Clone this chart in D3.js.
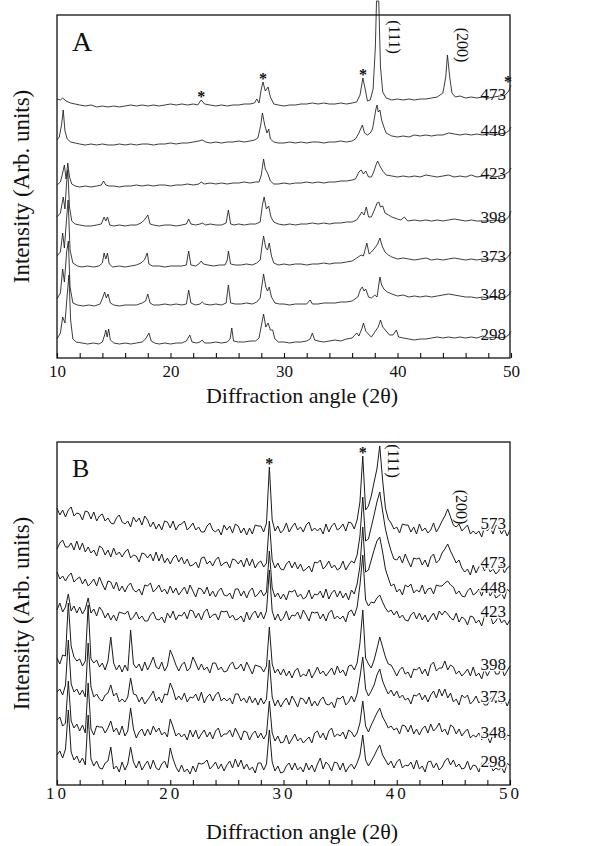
<!DOCTYPE html>
<html>
<head>
<meta charset="utf-8">
<script src="https://cdn.jsdelivr.net/npm/d3@7"></script>
<style>
    body { margin: 0; background: #fff; }
    text { font-family: "Liberation Serif", "Times New Roman", serif; fill: #111; }
</style>
</head>
<body>
<svg id="chart" width="616" height="846"></svg>
<script>
// ---- Panel A data: temperature labels, trace baselines and [angle, intensity above baseline] readings
var tempsA = ["473", "448", "423", "398", "373", "348", "298"];
var baseA = [251, 213, 171, 131, 90, 51, 13];

var trace473A = [[10,8],[10.3,7],[10.5,9],[10.8,6],[11.2,4],[11.6,3],[12,2],[12.5,1],[13,2],[13.5,0],[14,1],[14.5,0],[15,1],[15.5,0],[16,1],[16.5,2],[17,1],[17.5,2],[18,1],[18.5,2],[19,1],[19.5,2],[20,3],[20.5,2],[21,3],[21.5,2],[22,3],[22.4,2],[22.7,7],[23,3],[23.5,2],[24,1],[24.5,2],[25,1],[25.5,2],[26,2],[26.5,3],[27,3],[27.4,4],[27.6,8],[27.8,4],[28.0,18],[28.15,25],[28.35,16],[28.6,20],[28.8,10],[29.1,3],[29.5,2],[30,1],[30.5,2],[31,2],[31.5,3],[32,3],[32.5,4],[33,3],[33.5,4],[34,3],[34.5,3],[35,4],[35.5,3],[36,4],[36.4,5],[36.7,12],[36.95,29],[37.15,18],[37.35,6],[37.6,7],[37.85,18],[38.05,60],[38.15,106],[38.35,106],[38.5,40],[38.7,15],[39,9],[39.5,7],[40,8],[40.5,7],[41,8],[41.5,7],[42,8],[42.5,8],[43,9],[43.5,10],[44,14],[44.25,30],[44.4,52],[44.6,30],[44.8,14],[45.1,10],[45.5,11],[46,9],[46.5,10],[47,9],[47.5,10],[48,9],[48.5,10],[49,11],[49.5,12],[49.8,16],[50,22]];

var trace448A = [[10,5],[10.2,8],[10.4,20],[10.55,35],[10.7,14],[10.9,6],[11.2,3],[11.6,2],[12,1],[12.5,0],[13,1],[13.5,0],[14,1],[14.5,0],[15,0],[15.5,1],[16,0],[16.5,1],[17,0],[17.5,1],[18,1],[18.5,0],[19,1],[19.5,1],[20,2],[20.5,1],[21,2],[21.5,2],[22,3],[22.5,4],[22.8,5],[23.1,3],[23.5,2],[24,3],[24.5,2],[25,3],[25.5,3],[26,4],[26.5,3],[27,4],[27.4,5],[27.7,7],[27.95,20],[28.1,32],[28.3,20],[28.5,12],[28.65,16],[28.8,6],[29.1,3],[29.5,2],[30,2],[30.5,3],[31,2],[31.5,3],[32,2],[32.5,3],[33,3],[33.5,2],[34,3],[34.5,3],[35,4],[35.5,3],[36,4],[36.3,6],[36.6,12],[36.9,20],[37.1,12],[37.35,10],[37.6,12],[37.8,16],[37.95,26],[38.1,36],[38.2,40],[38.3,33],[38.45,35],[38.6,25],[38.8,18],[39,12],[39.5,9],[40,8],[40.5,9],[41,8],[41.5,10],[42,9],[42.5,10],[43,9],[43.5,10],[44,10],[44.5,12],[45,11],[45.5,10],[46,11],[46.5,10],[47,11],[47.5,10],[48,11],[48.5,10],[49,11],[49.5,12],[49.8,14],[50,18]];

var trace423A = [[10,2],[10.3,5],[10.5,14],[10.65,22],[10.8,8],[10.95,24],[11.1,10],[11.3,3],[11.6,1],[12,0],[12.5,1],[13,0],[13.5,1],[13.9,2],[14.1,6],[14.3,2],[14.6,1],[15,1],[15.5,0],[16,1],[16.5,1],[17,2],[17.5,1],[18,2],[18.5,1],[19,2],[19.5,2],[20,1],[20.5,2],[21,2],[21.5,3],[22,2],[22.5,3],[22.7,5],[23,3],[23.5,4],[24,3],[24.5,4],[25,3],[25.5,4],[26,4],[26.5,5],[27,4],[27.5,5],[27.8,5],[28.0,12],[28.2,28],[28.35,18],[28.55,14],[28.8,6],[29.1,3],[29.5,3],[30,4],[30.5,3],[31,4],[31.5,4],[32,5],[32.5,4],[33,5],[33.5,4],[34,5],[34.5,5],[35,6],[35.5,6],[36,7],[36.3,8],[36.6,15],[36.8,17],[37,13],[37.2,16],[37.45,10],[37.7,10],[37.9,15],[38.1,22],[38.25,26],[38.45,21],[38.7,16],[39,12],[39.5,11],[40,10],[40.5,11],[41,10],[41.5,11],[42,10],[42.5,12],[43,11],[43.5,10],[44,11],[44.5,12],[45,10],[45.5,11],[46,10],[46.5,12],[47,10],[47.5,11],[48,12],[48.5,10],[49,11],[49.5,13],[49.8,15],[50,19]];

var trace398A = [[10,10],[10.3,14],[10.55,30],[10.7,18],[10.85,45],[10.95,57],[11.1,20],[11.3,6],[11.6,3],[12,2],[12.5,1],[13,1],[13.5,2],[13.9,3],[14.15,10],[14.3,6],[14.45,10],[14.65,2],[15,1],[15.5,2],[16,1],[16.5,2],[17,2],[17.4,4],[17.7,7],[18.0,12],[18.2,3],[18.5,2],[19,1],[19.5,2],[20,2],[20.5,1],[21,2],[21.4,3],[21.6,8],[21.8,3],[22.2,2],[22.6,3],[22.8,4],[23.1,2],[23.5,3],[24,2],[24.5,2],[24.9,4],[25.1,17],[25.3,3],[25.6,2],[26,3],[26.5,2],[27,3],[27.5,3],[27.9,5],[28.1,22],[28.25,30],[28.45,18],[28.65,21],[28.85,10],[29.1,5],[29.5,3],[30,2],[30.5,3],[31,2],[31.5,3],[32,3],[32.5,4],[33,3],[33.5,4],[34,3],[34.5,4],[35,4],[35.5,5],[36,5],[36.4,7],[36.7,12],[36.85,15],[37.05,12],[37.25,20],[37.45,10],[37.7,10],[38.0,18],[38.2,24],[38.35,25],[38.5,20],[38.7,21],[38.9,14],[39.2,12],[39.5,10],[40,8],[40.3,7],[40.6,10],[40.9,6],[41.5,7],[42,6],[42.5,7],[43,6],[43.5,7],[44,6],[44.5,7],[45,8],[45.5,7],[46,6],[46.5,7],[47,6],[47.5,6],[48,6],[48.5,7],[49,6],[49.5,7],[49.8,10],[50,16]];

var trace373A = [[10,12],[10.3,16],[10.5,35],[10.65,20],[10.85,50],[10.98,68],[11.15,18],[11.4,5],[11.8,2],[12.2,1],[12.7,2],[13.2,1],[13.7,2],[14.0,5],[14.15,15],[14.3,9],[14.45,15],[14.6,4],[14.9,1],[15.5,2],[16,1],[16.5,2],[17,3],[17.4,5],[17.7,8],[17.95,15],[18.1,4],[18.4,2],[19,2],[19.5,1],[20,2],[20.5,2],[21,2],[21.4,3],[21.6,17],[21.8,3],[22.2,2],[22.5,4],[22.7,7],[22.9,4],[23.3,3],[23.8,2],[24.3,3],[24.8,3],[25.0,8],[25.1,17],[25.3,4],[25.7,3],[26.2,3],[26.7,4],[27.2,3],[27.6,5],[27.9,8],[28.1,25],[28.2,32],[28.4,20],[28.55,18],[28.7,25],[28.9,12],[29.1,5],[29.5,3],[30,4],[30.5,3],[31,4],[31.5,4],[32,3],[32.5,4],[33,4],[33.5,5],[34,4],[34.5,5],[35,5],[35.5,6],[36,7],[36.4,10],[36.8,13],[37.0,12],[37.3,25],[37.5,14],[37.7,16],[38.0,20],[38.25,24],[38.45,30],[38.65,22],[38.9,16],[39.2,13],[39.5,11],[40,9],[40.5,10],[41,9],[41.5,8],[42,9],[42.5,10],[43,8],[43.5,9],[44,8],[44.5,9],[45,10],[45.5,9],[46,8],[46.5,9],[47,8],[47.5,9],[48,8],[48.5,9],[49,8],[49.5,9],[49.8,12],[50,16]];

var trace348A = [[10,8],[10.3,14],[10.5,38],[10.65,25],[10.85,55],[11.0,66],[11.15,20],[11.4,4],[11.8,2],[12.3,1],[12.8,2],[13.3,1],[13.8,3],[14.05,10],[14.2,15],[14.35,9],[14.5,13],[14.7,4],[15,2],[15.5,1],[16,2],[16.5,2],[17,2],[17.5,4],[17.8,6],[18.0,13],[18.2,4],[18.5,2],[19,2],[19.5,3],[20,2],[20.5,3],[21,2],[21.4,3],[21.6,17],[21.8,4],[22.2,2],[22.6,3],[22.8,5],[23,3],[23.5,2],[24,3],[24.5,2],[24.9,4],[25.1,22],[25.3,4],[25.7,3],[26.2,3],[26.7,4],[27.2,3],[27.6,5],[27.9,9],[28.1,25],[28.2,33],[28.4,20],[28.55,16],[28.7,20],[28.9,10],[29.2,4],[29.6,3],[30,3],[30.5,2],[31,3],[31.5,3],[32,3],[32.3,7],[32.5,3],[33,3],[33.5,4],[34,4],[34.5,4],[35,5],[35.5,5],[36,6],[36.5,10],[36.75,18],[36.9,20],[37.05,16],[37.2,18],[37.45,10],[37.7,9],[38.0,12],[38.2,10],[38.45,30],[38.6,22],[38.8,18],[39.1,15],[39.5,13],[40,11],[40.5,12],[41,10],[41.5,11],[42,10],[42.5,11],[43,10],[43.5,11],[44,12],[44.5,13],[45,12],[45.5,11],[46,10],[46.5,10],[47,9],[47.5,10],[48,9],[48.5,10],[49,9],[49.5,10],[49.8,12],[50,16]];

var trace298A = [[10,6],[10.3,12],[10.5,28],[10.7,22],[10.9,50],[11.05,70],[11.2,25],[11.4,6],[11.7,3],[12.2,2],[12.7,1],[13.2,2],[13.7,1],[14.0,3],[14.2,10],[14.3,15],[14.42,8],[14.55,16],[14.7,5],[15,2],[15.5,1],[16,2],[16.5,1],[17,2],[17.5,3],[17.8,6],[18.1,12],[18.3,4],[18.6,2],[19,1],[19.5,2],[20,1],[20.5,2],[21,2],[21.4,4],[21.7,10],[21.9,3],[22.3,2],[22.6,3],[22.8,5],[23,2],[23.5,2],[24,3],[24.5,2],[25,3],[25.25,6],[25.4,17],[25.55,4],[26,3],[26.5,3],[27,4],[27.5,4],[27.8,7],[28.1,25],[28.2,31],[28.4,18],[28.6,22],[28.8,15],[29.0,15],[29.2,6],[29.5,3],[30,3],[30.5,2],[31,3],[31.5,3],[32,4],[32.3,6],[32.5,12],[32.7,5],[33,4],[33.5,3],[34,4],[34.5,5],[35,4],[35.5,6],[36,7],[36.4,12],[36.6,9],[36.85,16],[37.0,22],[37.2,14],[37.5,10],[37.7,8],[38.0,13],[38.3,18],[38.5,25],[38.7,18],[39,14],[39.3,10],[39.6,10],[39.9,15],[40.1,8],[40.5,7],[41,6],[41.5,5],[42,6],[42.5,6],[43,7],[43.5,8],[44,7],[44.5,8],[45,7],[45.5,8],[46,7],[46.5,8],[47,7],[47.5,9],[48,7],[48.5,8],[49,7],[49.5,8],[49.8,10],[50,14]];

var tracesA = [trace473A, trace448A, trace423A, trace398A, trace373A, trace348A, trace298A];

// ---- Panel B data: readings every 0.25 degree from 10 to 50, above each trace baseline
var tempsB = ["573", "473", "448", "423", "398", "373", "348", "298"];
var baseB = [253, 214, 189, 165, 112, 80, 44, 15];
var startB = 10, stepB = 0.25;

var trace573B = [24,17,22,15, 22,25,16,19, 18,12,21,20, 13,20,11,16, 18,11,14,9, 8,14,17,10, 8,11,5,15, 10,14,7,16, 12,5,10,3, 8,2,11,10, 4,11,2,7, 8,11,2,5, 9,2,5,0, 0,6,9,2, 0,3,-3,7, 2,6,-1,8, 6,-1,4,-3, 4,-2,7,6, 6,0,9,65, 12,1,6,-1, 2,9,0,5, 9,2,5,0, 7,10,1,4, 1,4,-2,8, 0,6,9,2, 4,8,1,10, 9,3,12,30, 76,22,26,36, 50,63,86,52, 24,13,9,3, 5,-1,8,7, 7,0,5,-2, 8,1,4,-1, 2,9,0,5, 11,16,23,15, 7,5,8,1, 4,7,-2,1, -2,1,-5,5, 1,5,-2,7, 5,-2,3,-4, 2];

var trace473B = [22,28,31,24, 24,28,21,30, 21,28,19,24, 18,21,15,25, 23,16,21,14, 23,16,19,14, 19,22,13,16, 15,9,18,17, 13,17,10,19, 10,17,8,13, 7,13,16,9, 14,7,12,5, 6,9,3,13, 14,7,10,5, 11,14,5,8, 9,3,12,11, 7,11,4,13, 5,12,3,8, 10,4,8,50, 11,3,8,2, 1,7,10,3, 9,2,7,0, 2,5,-1,9, 8,11,2,5, 10,3,6,1, 3,10,1,6, 10,8,16,35, 74,30,32,44, 56,69,79,60, 42,30,20,12, 11,15,8,17, 10,4,13,12, 13,6,11,4, 14,17,8,11, 18,22,27,20, 14,8,11,3, -1,2,-4,6, -2,4,7,0, 6,-1,2,-3, 0,7,-2,3, 5];

var trace448B = [24,17,20,15, 20,23,14,17, 19,12,17,10, 13,17,10,19, 12,6,15,14, 7,14,5,10, 4,10,13,6, 4,7,1,11, 10,13,4,7, 11,4,7,2, 10,3,8,1, 5,9,2,11, 5,-1,8,7, 2,9,0,5, -1,5,8,1, 0,3,-3,7, 7,0,5,-2, 5,8,-1,2, 6,0,4,45, 8,-1,3,-3, 2,-4,5,4, 6,-1,2,-3, -1,6,-3,2, 1,5,-2,7, -3,3,6,-1, 5,-2,3,-4, 6,2,12,30, 69,24,26,36, 46,55,59,44, 27,18,10,12, 4,7,1,11, 9,12,3,6, 4,11,2,7, 8,2,11,10, 10,13,15,11, 9,2,5,0, -1,5,8,1, 3,7,0,9, 7,0,5,-2, 0,3,-3,7, 4];

var trace423B = [10,17,8,13, 26,9,14,7, 13,6,11,22, 7,11,4,13, 9,2,7,0, 5,-1,8,7, 6,9,0,3, 8,1,4,-1, -1,5,8,1, 0,3,-3,7, 2,9,0,5, 4,8,1,10, 9,2,7,0, 8,11,2,5, 6,0,9,8, 9,2,5,0, 1,4,-2,8, 0,6,9,2, 8,1,9,50, 9,0,6,-1, 2,9,0,5, 4,8,1,10, 5,-1,8,7, 8,1,6,-1, 7,10,1,4, 1,4,-2,8, 10,4,13,35, 65,20,14,18, 17,22,25,18, 12,8,10,5, 9,2,5,0, -1,5,8,1, 7,0,5,-2, 3,7,0,9, 5,9,6,2, 0,7,-2,3, 1,-5,4,3, -3,0,-6,4, 2,5,-4,-1, 4,-3,0,-5, 0];

var trace398B = [15,9,18,17, 70,27,16,12, 14,7,12,68, 14,10,13,6, 10,3,12,36, 10,3,8,1, 8,2,43,9, 5,9,2,11, 3,9,16,6, 4,11,2,7, 23,16,8,2, 8,11,2,5, 16,10,3,9, 3,6,0,10, 10,3,6,1, 2,8,11,4, 5,9,2,11, 5,-1,8,7, 6,1,7,46, 9,0,4,-2, 4,-3,2,-5, 2,5,-4,-1, -3,4,-5,0, 6,-1,2,-3, 1,5,-2,7, 0,3,-3,7, 8,3,10,30, 63,15,9,5, 13,24,36,26, 16,9,8,3, -3,3,6,-1, 1,-5,4,3, 6,-1,4,-3, 8,11,2,5, 5,12,3,8, 6,-1,2,-3, 0,4,-3,6, -3,0,-6,4, -3,3,6,-1, -1,6,-3,2, 7];

var trace373B = [13,16,10,20, 65,21,13,16, 10,15,8,62, 18,8,11,6, 4,10,12,20, 9,12,3,6, 3,8,27,11, 10,3,8,1, 5,9,14,4, 8,2,11,10, 22,15,5,9, 5,12,3,8, 7,11,4,13, 2,8,11,4, 10,13,4,7, 4,7,1,11, 11,4,7,2, 9,2,7,0, 7,1,6,45, 8,-1,5,-2, 3,7,0,9, 4,-2,7,6, 1,8,-1,4, -1,5,8,1, 0,3,-3,7, 6,9,0,3, 9,3,11,28, 48,16,9,14, 20,30,36,24, 17,11,15,9, 14,7,10,5, 7,1,10,9, 12,5,10,3, 10,14,7,16, 9,16,7,12, 3,6,0,10, 7,10,1,4, 9,2,5,0, 0,6,9,2, 8,1,6,-1, 6];

var trace348B = [21,24,15,18, 60,20,13,17, 10,16,8,58, 12,6,15,14, 14,8,13,20, 9,13,6,15, 5,10,33,12, 3,9,12,5, 12,6,15,9, 13,6,9,4, 22,14,5,8, 4,7,1,11, 4,11,2,7, 11,4,9,2, 10,13,4,7, 7,11,4,13, 7,1,10,9, 1,7,10,3, 8,2,7,40, 8,0,5,-2, -1,6,-3,2, 7,0,3,-2, 1,4,-2,8, 10,3,8,1, 10,13,4,7, 5,9,2,11, 9,4,8,18, 40,15,9,16, 22,28,33,24, 19,13,15,11, 13,7,16,15, 9,16,7,12, 6,12,15,8, 17,10,13,18, 9,12,6,16, 14,7,12,5, 9,12,3,6, 4,8,1,10, 4,-2,7,6, 3,10,1,6, 5];

var trace298B = [15,19,12,21, 60,18,10,14, 7,12,5,55, 11,4,9,2, 1,7,9,23, 1,4,-2,8, 0,6,23,8, 2,9,0,5, 9,1,10,2, 0,6,9,2, 22,11,3,-2, 5,-2,1,-4, 4,-2,7,6, 7,10,1,4, 8,1,6,-1, 5,9,2,11, 3,10,1,6, 0,3,-3,7, 7,0,6,40, 8,-1,4,-3, -2,4,7,0, 7,0,3,-2, 7,0,5,-2, 6,12,1,8, 5,-1,8,7, 0,7,-2,3, 6,1,7,15, 35,10,4,9, 14,20,25,15, 10,5,9,2, 8,11,2,5, 4,8,1,10, 1,4,-2,8, 9,2,7,0, 3,9,12,5, 10,3,6,1, 2,9,0,5, 4,-2,7,6, 5,8,-1,2, 0,3,-3,7, 4];

var tracesB = [trace573B, trace473B, trace448B, trace423B, trace398B, trace373B, trace348B, trace298B];

// x ticks and annotations
var tickLabels = [10, 20, 30, 40, 50];
var minorTicks = d3.range(10, 51, 2);
var starsA = [22.7, 28.15, 36.95, 49.9];
var starsB = [28.75, 37.0];

var serif = "'Liberation Serif', 'Times New Roman', serif";
var svg = d3.select("#chart").attr("font-family", serif);

// ---- scales (1 intensity unit = 1 px)
var xA = d3.scaleLinear().domain([10, 50]).range([57, 511]);
var yA = d3.scaleLinear().domain([0, 343]).range([358, 15]);
var xB = d3.scaleLinear().domain([10, 50]).range([57, 510]);
var yB = d3.scaleLinear().domain([0, 343]).range([785, 442]);

// turn panel B value lists into [angle, value] pairs
var pairsB = tracesB.map(function (vals) {
    return vals.map(function (v, i) { return [startB + i * stepB, v]; });
});

function peakNear(points, a) {
    var near = points.filter(function (p) { return Math.abs(p[0] - a) <= 0.3; });
    return d3.max(near, function (p) { return p[1]; });
}

function valueNear(points, a) {
    return points.reduce(function (best, p) {
        return Math.abs(p[0] - a) < Math.abs(best[0] - a) ? p : best;
    })[1];
}

function drawPanel(cfg) {
    var g = svg.append("g");

    // frame
    g.append("rect")
        .attr("x", cfg.x.range()[0])
        .attr("y", cfg.y.range()[1])
        .attr("width", cfg.frameRight - cfg.x.range()[0])
        .attr("height", cfg.y.range()[0] - cfg.y.range()[1])
        .attr("fill", "none")
        .attr("stroke", "#111")
        .attr("stroke-width", 1.3);

    // traces
    cfg.traces.forEach(function (pts, i) {
        var base = cfg.bases[i];
        var line = d3.line()
            .x(function (d) { return cfg.x(d[0]); })
            .y(function (d) { return cfg.y(base + d[1]); });
        g.append("path")
            .datum(pts)
            .attr("d", line)
            .attr("fill", "none")
            .attr("stroke", "#1a1a1a")
            .attr("stroke-width", cfg.lineWidth)
            .attr("stroke-linejoin", "round");
    });

    // temperature labels sitting on the traces near the right edge (drawn above all traces)
    cfg.traces.forEach(function (pts, i) {
        g.append("text")
            .attr("x", 506)
            .attr("y", cfg.labelY(cfg.bases[i], pts))
            .attr("text-anchor", "end")
            .attr("stroke", "#fff")
            .attr("stroke-width", cfg.halo)
            .attr("paint-order", "stroke")
            .style("font-size", "17px")
            .text(cfg.temps[i]);
    });

    // bottom axis with inward ticks every 2 degrees
    var axis = g.append("g")
        .attr("transform", "translate(0," + cfg.y.range()[0] + ")")
        .call(d3.axisBottom(cfg.x)
            .tickValues(minorTicks)
            .tickSizeInner(-5)
            .tickSizeOuter(0)
            .tickPadding(cfg.tickPad)
            .tickFormat(function (d) { return tickLabels.indexOf(d) >= 0 ? d : ""; }));
    axis.attr("font-family", serif);
    axis.select(".domain").remove();
    axis.selectAll("line").attr("stroke", "#111").attr("stroke-width", 1.1);
    axis.selectAll("text")
        .style("font-family", serif)
        .style("font-size", "17px")
        .style("letter-spacing", cfg.spacing)
        .attr("fill", "#111");

    // axis titles
    g.append("text")
        .attr("x", 302)
        .attr("y", cfg.titleY)
        .attr("text-anchor", "middle")
        .style("font-size", "22px")
        .text("Diffraction angle (2\u03b8)");

    g.append("text")
        .attr("transform", "translate(29," + (cfg.y.range()[0] + cfg.y.range()[1]) / 2 + ") rotate(-90)")
        .attr("text-anchor", "middle")
        .style("font-size", "23px")
        .text("Intensity (Arb. units)");

    // panel letter
    g.append("text")
        .attr("x", 72)
        .attr("y", cfg.letterY)
        .style("font-size", cfg.letterSize)
        .text(cfg.letter);

    // stars over the top trace
    var top = cfg.traces[0];
    cfg.stars.forEach(function (a) {
        g.append("text")
            .attr("x", Math.min(cfg.x(a), 508))
            .attr("y", cfg.y(cfg.bases[0] + peakNear(top, a)) + 2)
            .attr("text-anchor", "middle")
            .style("font-size", "16px")
            .style("font-weight", "bold")
            .text("*");
    });

    // reflection labels, written vertically
    [["(111)", 39.75, cfg.hkl111], ["(200)", 45.75, cfg.hkl200]].forEach(function (h) {
        g.append("text")
            .attr("transform", "translate(" + cfg.x(h[1]) + "," + h[2] + ") rotate(90)")
            .attr("text-anchor", "middle")
            .attr("dy", "0.35em")
            .style("font-size", "16px")
            .text(h[0]);
    });
}

drawPanel({
    x: xA, y: yA, frameRight: 510, lineWidth: 0.85, halo: 0,
    traces: tracesA, bases: baseA, temps: tempsA,
    labelY: function (base, pts) { return yA(base + valueNear(pts, 47)) + 2; },
    tickPad: 7, spacing: "0px", titleY: 403,
    letter: "A", letterY: 51, letterSize: "28px",
    stars: starsA, hkl111: 37, hkl200: 45
});

drawPanel({
    x: xB, y: yB, frameRight: 510, lineWidth: 1.0, halo: 3,
    traces: pairsB, bases: baseB, temps: tempsB,
    labelY: function (base) { return yB(base) - 3; },
    tickPad: 2, spacing: "3px", titleY: 839,
    letter: "B", letterY: 477, letterSize: "26px",
    stars: starsB, hkl111: 461, hkl200: 507
});
</script>
</body>
</html>
